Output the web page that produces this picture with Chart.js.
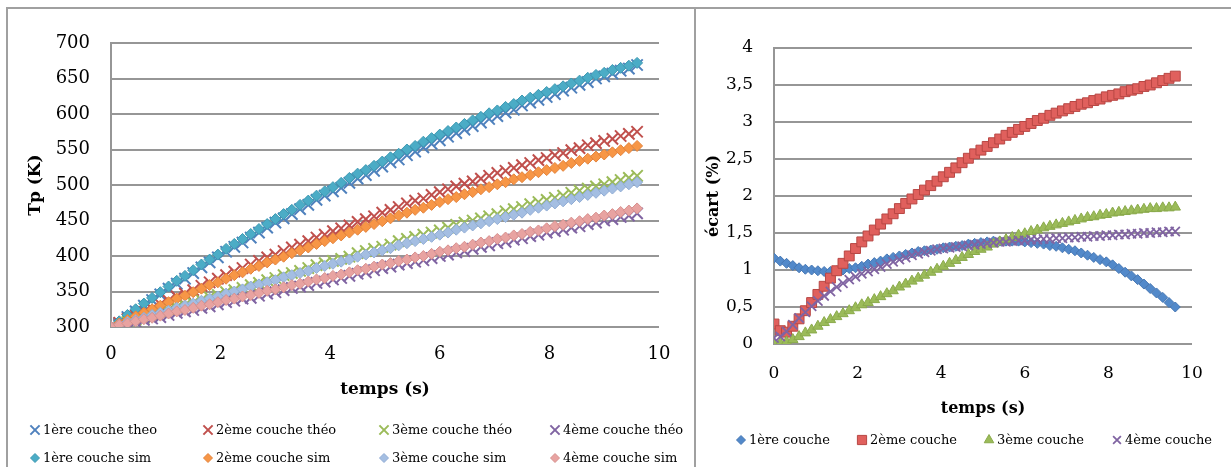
<!DOCTYPE html>
<html>
<head>
<meta charset="utf-8">
<script src="https://cdn.jsdelivr.net/npm/chart.js"></script>
<style>
  body { margin: 0; background: #fff; width: 1231px; height: 467px; overflow: hidden; position: relative; }
  .frame { position: absolute; border: 2px solid #a0a0a0; box-sizing: border-box; }
  canvas { position: absolute; }
</style>
</head>
<body>
<div class="frame" style="left:6px; top:7px; width:690px; height:480px;"></div>
<div class="frame" style="left:694px; top:7px; width:560px; height:480px;"></div>
<canvas id="tempChart" width="686" height="458" style="left:8px; top:9px;"></canvas>
<canvas id="ecartChart" width="535" height="458" style="left:696px; top:9px;"></canvas>
<script>
// temps (s)
const timeS = [0, 0.15, 0.3, 0.45, 0.6, 0.75, 0.9, 1.05, 1.2, 1.35, 1.5, 1.65, 1.8, 1.95, 2.1, 2.25, 2.4, 2.55, 2.7, 2.85,
  3, 3.15, 3.3, 3.45, 3.6, 3.75, 3.9, 4.05, 4.2, 4.35, 4.5, 4.65, 4.8, 4.95, 5.1, 5.25, 5.4, 5.55, 5.7, 5.85,
  6, 6.15, 6.3, 6.45, 6.6, 6.75, 6.9, 7.05, 7.2, 7.35, 7.5, 7.65, 7.8, 7.95, 8.1, 8.25, 8.4, 8.55, 8.7, 8.85,
  9, 9.15, 9.3, 9.45, 9.6];

// Tp (K) - théorique
const theo1 = [297, 305, 314, 322, 330, 338, 346, 354, 361, 368, 376, 384, 391, 398, 406, 413, 419, 426, 433, 440,
  447, 453, 459, 466, 472, 479, 485, 491, 496, 503, 509, 514, 520, 526, 532, 536, 542, 547, 553, 558,
  563, 568, 573, 578, 583, 588, 593, 597, 602, 606, 612, 616, 620, 624, 628, 633, 637, 641, 645, 650,
  653, 657, 661, 664, 669];
const theo2 = [301, 306, 311, 316, 321, 326, 332, 337, 343, 347, 352, 358, 363, 368, 373, 378, 383, 388, 393, 398,
  402, 407, 412, 416, 421, 426, 430, 435, 439, 443, 448, 452, 456, 461, 465, 469, 474, 478, 481, 486,
  490, 494, 498, 502, 505, 509, 513, 517, 520, 524, 528, 531, 535, 538, 542, 545, 549, 552, 556, 559,
  562, 565, 569, 572, 575];
const theo3 = [300, 303, 307, 310, 313, 317, 321, 324, 328, 331, 334, 338, 342, 345, 349, 352, 355, 359, 362, 366,
  369, 373, 376, 379, 383, 387, 390, 393, 396, 399, 404, 407, 410, 413, 416, 421, 424, 427, 430, 433,
  436, 440, 444, 447, 450, 453, 456, 459, 463, 466, 469, 473, 476, 479, 482, 485, 489, 492, 495, 498,
  501, 504, 507, 510, 513];
const theo4 = [300, 303, 304, 307, 310, 312, 314, 317, 320, 322, 324, 327, 329, 332, 335, 337, 340, 341, 344, 347,
  349, 352, 355, 357, 359, 362, 364, 367, 369, 372, 375, 377, 380, 383, 385, 388, 390, 392, 394, 397,
  400, 402, 405, 407, 410, 413, 415, 418, 420, 423, 425, 428, 430, 433, 435, 437, 440, 442, 445, 447,
  450, 452, 455, 457, 460];

// Tp (K) - simulation
const sim1 = [300, 308, 317, 325, 333, 341, 349, 357, 365, 372, 380, 388, 395, 402, 410, 417, 424, 431, 438, 445,
  452, 459, 465, 472, 478, 485, 491, 497, 503, 510, 516, 521, 527, 533, 539, 544, 550, 555, 561, 566,
  571, 576, 581, 586, 591, 596, 601, 605, 610, 614, 619, 623, 627, 631, 635, 639, 643, 647, 651, 655,
  658, 662, 665, 668, 672];
const sim2 = [300, 305, 310, 315, 320, 325, 330, 335, 340, 344, 349, 354, 359, 363, 368, 373, 377, 382, 386, 391,
  395, 399, 404, 408, 412, 417, 421, 425, 429, 433, 437, 441, 445, 449, 453, 457, 461, 465, 468, 472,
  476, 480, 483, 487, 490, 494, 497, 501, 504, 508, 511, 514, 518, 521, 524, 527, 531, 534, 537, 540,
  543, 546, 549, 552, 555];
const sim3 = [300, 303, 307, 310, 313, 317, 320, 323, 327, 330, 333, 337, 340, 343, 347, 350, 353, 357, 360, 363,
  366, 370, 373, 376, 379, 383, 386, 389, 392, 395, 399, 402, 405, 408, 411, 415, 418, 421, 424, 427,
  430, 433, 437, 440, 443, 446, 449, 452, 455, 458, 461, 465, 468, 471, 474, 477, 480, 483, 486, 489,
  492, 495, 498, 501, 504];
const sim4 = [300, 303, 305, 308, 311, 313, 316, 319, 322, 324, 327, 330, 332, 335, 338, 340, 343, 345, 348, 351,
  353, 356, 359, 361, 364, 367, 369, 372, 374, 377, 380, 382, 385, 388, 390, 393, 395, 398, 400, 403,
  406, 408, 411, 413, 416, 419, 421, 424, 426, 429, 431, 434, 436, 439, 442, 444, 447, 449, 452, 454,
  457, 459, 462, 464, 467];

// écart (%)
const ecart1 = [1.16, 1.12, 1.09, 1.06, 1.03, 1.01, 1.00, 0.99, 0.98, 0.98, 0.99, 1.00, 1.02, 1.03, 1.05, 1.08, 1.10, 1.12, 1.15, 1.17,
  1.19, 1.21, 1.23, 1.25, 1.26, 1.27, 1.28, 1.30, 1.31, 1.32, 1.33, 1.35, 1.36, 1.37, 1.38, 1.39, 1.39, 1.39, 1.39, 1.39,
  1.38, 1.37, 1.36, 1.35, 1.33, 1.32, 1.30, 1.28, 1.26, 1.23, 1.20, 1.17, 1.14, 1.11, 1.07, 1.02, 0.97, 0.92, 0.87, 0.81,
  0.75, 0.69, 0.63, 0.56, 0.50];
const ecart2 = [0.27, 0.18, 0.16, 0.24, 0.34, 0.45, 0.56, 0.67, 0.78, 0.89, 0.99, 1.09, 1.19, 1.29, 1.38, 1.46, 1.54, 1.62, 1.69, 1.76,
  1.83, 1.90, 1.96, 2.02, 2.08, 2.14, 2.20, 2.26, 2.32, 2.38, 2.45, 2.51, 2.57, 2.62, 2.67, 2.72, 2.77, 2.82, 2.86, 2.90,
  2.94, 2.98, 3.02, 3.05, 3.09, 3.12, 3.15, 3.18, 3.21, 3.24, 3.26, 3.29, 3.31, 3.34, 3.36, 3.38, 3.41, 3.43, 3.45, 3.48,
  3.50, 3.53, 3.56, 3.59, 3.62];
const ecart3 = [0, 0.01, 0.03, 0.06, 0.10, 0.15, 0.19, 0.24, 0.29, 0.33, 0.37, 0.41, 0.45, 0.49, 0.53, 0.56, 0.60, 0.64, 0.68, 0.72,
  0.77, 0.81, 0.85, 0.89, 0.93, 0.97, 1.01, 1.05, 1.09, 1.13, 1.17, 1.21, 1.25, 1.28, 1.31, 1.35, 1.38, 1.41, 1.44, 1.47,
  1.49, 1.52, 1.54, 1.57, 1.59, 1.61, 1.63, 1.65, 1.67, 1.69, 1.71, 1.72, 1.74, 1.75, 1.77, 1.78, 1.79, 1.80, 1.81, 1.82,
  1.83, 1.83, 1.84, 1.84, 1.85];
const ecart4 = [0.08, 0.10, 0.17, 0.26, 0.35, 0.43, 0.51, 0.58, 0.65, 0.71, 0.77, 0.82, 0.87, 0.91, 0.95, 0.98, 1.01, 1.04, 1.08, 1.11,
  1.14, 1.17, 1.20, 1.22, 1.24, 1.26, 1.28, 1.29, 1.30, 1.31, 1.32, 1.33, 1.34, 1.35, 1.36, 1.37, 1.38, 1.38, 1.39, 1.40,
  1.40, 1.41, 1.41, 1.42, 1.42, 1.43, 1.43, 1.44, 1.44, 1.45, 1.45, 1.46, 1.46, 1.47, 1.47, 1.48, 1.48, 1.49, 1.49, 1.50,
  1.50, 1.51, 1.51, 1.52, 1.52];

// ticks + légendes
const xTickValues = [0, 2, 4, 6, 8, 10];
const tempTicks = [300, 350, 400, 450, 500, 550, 600, 650, 700];
const ecartTicks = [0, 0.5, 1, 1.5, 2, 2.5, 3, 3.5, 4];
const tempLegend = ["1ère couche theo", "2ème couche théo", "3ème couche théo", "4ème couche théo",
  "1ère couche sim", "2ème couche sim", "3ème couche sim", "4ème couche sim"];
const ecartLegend = ["1ère couche", "2ème couche", "3ème couche", "4ème couche"];

Chart.defaults.font.family = "'DejaVu Serif', serif";
Chart.defaults.color = "#000";

const gridColor = "#969696";

function points(ys) {
  return timeS.map((t, i) => ({ x: t, y: ys[i] }));
}

function markerSet(label, ys, style, radius, fill, stroke, bw, legendRadius) {
  return {
    label: label,
    data: points(ys),
    pointStyle: style,
    pointRadius: radius,
    pointHoverRadius: radius,
    pointBackgroundColor: fill,
    pointBorderColor: stroke,
    pointBorderWidth: bw,
    backgroundColor: fill,
    borderColor: stroke,
    borderWidth: bw,
    legendRadius: legendRadius,
    showLine: false,
  };
}

// légende en grille (colonnes fixes comme dans Excel)
function gridLegend(labels, colsX, rowsY, fontSize, textGap) {
  return {
    id: "gridLegend",
    afterDraw: function (chart) {
      const ctx = chart.ctx;
      ctx.save();
      ctx.font = fontSize + "px 'DejaVu Serif'";
      ctx.textBaseline = "middle";
      ctx.textAlign = "left";
      labels.forEach((label, i) => {
        const ds = chart.data.datasets.find((d) => d.label === label);
        const x = colsX[i % colsX.length];
        const y = rowsY[Math.floor(i / colsX.length)];
        ctx.fillStyle = ds.pointBackgroundColor;
        ctx.strokeStyle = ds.pointBorderColor;
        ctx.lineWidth = ds.pointBorderWidth;
        const r = ds.legendRadius || ds.pointRadius;
        Chart.helpers.drawPoint(ctx, { pointStyle: ds.pointStyle, radius: r, rotation: 0, borderWidth: ds.pointBorderWidth }, x, y);
        ctx.fillStyle = "#000";
        ctx.fillText(label, x + textGap, y + 1);
      });
      ctx.restore();
    },
  };
}

function baseOptions(o) {
  return {
    responsive: false,
    animation: false,
    layout: { padding: o.padding },
    plugins: { legend: { display: false }, tooltip: { enabled: false } },
    scales: {
      x: {
        type: "linear",
        min: 0,
        max: 10,
        afterFit: (s) => { s.height = 80; },
        afterBuildTicks: (axis) => { axis.ticks = xTickValues.map((v) => ({ value: v })); },
        grid: { display: false, drawTicks: false },
        border: { display: false },
        ticks: { font: { size: o.tickSize }, padding: o.xTickPad, color: "#000" },
        title: { display: true, text: "temps (s)", font: { size: o.titleSize, weight: "bold" }, padding: { top: 0, bottom: o.xTitlePad }, color: "#000" },
      },
      y: {
        min: o.yTicks[0],
        max: o.yTicks[o.yTicks.length - 1],
        afterFit: (s) => { s.width = o.yWidth; },
        afterBuildTicks: (axis) => { axis.ticks = o.yTicks.map((v) => ({ value: v })); },
        grid: { color: gridColor, lineWidth: 2, drawTicks: false },
        border: { display: true, color: gridColor, width: 2 },
        ticks: { font: { size: o.tickSize }, padding: 21, color: "#000", callback: o.fmt },
        title: { display: true, text: o.yTitle, font: { size: o.titleSize, weight: "bold" }, padding: { top: o.yTitlePad, bottom: 0 }, color: "#000" },
      },
    },
  };
}

// Graphique Tp (K)
new Chart(document.getElementById("tempChart").getContext("2d"), {
  type: "scatter",
  data: {
    datasets: [
      markerSet("4ème couche sim", sim4, "rectRot", 5.5, "#E8A3A1", "#D68F8D", 1, 4.5),
      markerSet("3ème couche sim", sim3, "rectRot", 5.5, "#A4BEE2", "#90ACD4", 1, 4.5),
      markerSet("2ème couche sim", sim2, "rectRot", 5.5, "#F79646", "#E3823A", 1, 4.5),
      markerSet("1ère couche sim", sim1, "rectRot", 5.5, "#4BACC6", "#3C98B1", 1, 4.5),
      markerSet("4ème couche théo", theo4, "crossRot", 8, "#8064A2", "#8064A2", 2, 6.5),
      markerSet("3ème couche théo", theo3, "crossRot", 8, "#9BBB59", "#9BBB59", 2, 6.5),
      markerSet("2ème couche théo", theo2, "crossRot", 8, "#C0504D", "#C0504D", 2, 6.5),
      markerSet("1ère couche theo", theo1, "crossRot", 8, "#4F81BD", "#4F81BD", 2, 6.5),
    ],
  },
  options: baseOptions({
    padding: { left: 0, right: 35, top: 34, bottom: 60 },
    yTicks: tempTicks,
    yWidth: 103,
    tickSize: 18,
    xTickPad: 17,
    titleSize: 17,
    xTitlePad: 7,
    yTitle: "Tp (K)",
    yTitlePad: 17,
    fmt: (v) => String(v),
  }),
  plugins: [gridLegend(tempLegend, [27, 200, 376, 547], [421, 449], 13, 8)],
});

// Graphique écart (%)
new Chart(document.getElementById("ecartChart").getContext("2d"), {
  type: "scatter",
  data: {
    datasets: [
      markerSet("4ème couche", ecart4, "crossRot", 6.5, "#8064A2", "#8064A2", 1.8, 5.5),
      markerSet("3ème couche", ecart3, "triangle", 6, "#9BBB59", "#8AAA4B", 1, 5.5),
      markerSet("2ème couche", ecart2, "rect", 7, "#E0605D", "#B84744", 1, 6.5),
      markerSet("1ère couche", ecart1, "rectRot", 5, "#5289CA", "#4677B3", 1, 4.5),
    ],
  },
  options: baseOptions({
    padding: { left: 0, right: 39, top: 39, bottom: 43 },
    yTicks: ecartTicks,
    yWidth: 78,
    tickSize: 17,
    xTickPad: 19,
    titleSize: 16,
    xTitlePad: 6,
    yTitle: "écart (%)",
    yTitlePad: 8,
    fmt: (v) => String(v).replace(".", ","),
  }),
  plugins: [gridLegend(ecartLegend, [45, 166, 293, 421], [431], 13, 8)],
});
</script>
</body>
</html>
